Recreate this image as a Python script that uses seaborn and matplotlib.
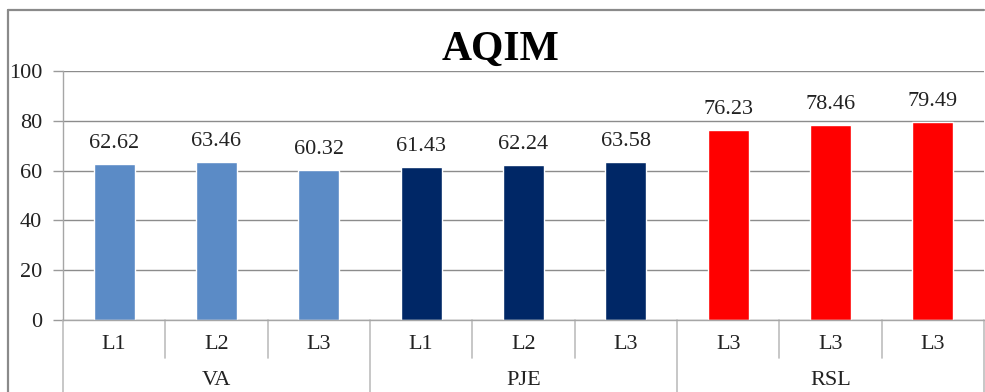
import matplotlib
matplotlib.use("Agg")
import matplotlib.pyplot as plt
import matplotlib.transforms as mtransforms
from matplotlib.lines import Line2D
import seaborn as sns
import pandas as pd

# Chart data
groups = ["VA", "VA", "VA", "PJE", "PJE", "PJE", "RSL", "RSL", "RSL"]
levels = ["L1", "L2", "L3", "L1", "L2", "L3", "L3", "L3", "L3"]
values = [62.62, 63.46, 60.32, 61.43, 62.24, 63.58, 76.23, 78.46, 79.49]
group_names = ["VA", "PJE", "RSL"]
group_colors = {"VA": "#5B8BC6", "PJE": "#002766", "RSL": "#FF0000"}
y_ticks = [0, 20, 40, 60, 80, 100]
title = "AQIM"

df = pd.DataFrame({
    "key": [f"{g}-{i}" for i, g in enumerate(groups)],
    "group": groups,
    "level": levels,
    "value": values,
})

sns.set_theme(style="white")
plt.rcParams["font.family"] = ["Liberation Serif", "DejaVu Serif"]

W, H = 985, 392
fig = plt.figure(figsize=(W / 100, H / 100), dpi=100)
left_px, right_px, top_px, bottom_px = 63, 984, 71, 320
ax = fig.add_axes([left_px / W, (H - bottom_px) / H,
                   (right_px - left_px) / W, (bottom_px - top_px) / H])

sns.barplot(data=df, x="key", y="value", hue="group", palette=group_colors,
            dodge=False, width=0.4, legend=False, ax=ax, saturation=1)

ax.set_ylim(0, 100)
ax.set_xlim(-0.5, len(values) - 0.5)
ax.set_yticks(y_ticks)
ax.set_yticklabels([str(t) for t in y_ticks], fontsize=16, color="#222222")
ax.tick_params(axis="y", length=7, width=1, color="#9a9a9a", pad=8, left=True)
ax.set_xticks([])
ax.set_xlabel("")
ax.set_ylabel("")

ax.yaxis.grid(True, color="#8c8c8c", linewidth=1.0)
ax.set_axisbelow(True)
for side in ["top", "right"]:
    ax.spines[side].set_visible(False)
ax.spines["left"].set_color("#a6a6a6")
ax.spines["bottom"].set_color("#a6a6a6")
ax.spines["left"].set_linewidth(1.0)
ax.spines["bottom"].set_linewidth(1.0)

# Value labels above each bar
for i, v in enumerate(values):
    ax.annotate(f"{v:.2f}", (i, v), xytext=(0, 8), textcoords="offset points",
                ha="center", va="bottom", fontsize=16, color="#222222")

# Two-level category axis
trans = mtransforms.blended_transform_factory(ax.transData, ax.transAxes)
for i, lab in enumerate(levels):
    ax.text(i, -0.10, lab, transform=trans, ha="center", va="center",
            fontsize=16, color="#222222", clip_on=False)
n = len(values)
for b in range(n + 1):
    x = b - 0.5
    is_group_edge = b % 3 == 0
    y_end = -0.30 if is_group_edge else -0.153
    ax.plot([x, x], [0, y_end], transform=trans, color="#bdbdbd",
            linewidth=1.2, clip_on=False)
for k, g in enumerate(group_names):
    ax.text(3 * k + 1, -0.242, g, transform=trans, ha="center", va="center",
            fontsize=16, color="#222222", clip_on=False)

# Title
fig.text(501 / W, 1 - 50 / H, title, ha="center", va="center",
         fontsize=30, fontweight="bold", color="#000000")

# Chart frame (left and top edges)
fx0, fy1 = 8 / W, 1 - 10 / H
fig.add_artist(Line2D([fx0, fx0], [0, fy1], transform=fig.transFigure,
                      color="#8a8a8a", linewidth=1.6))
fig.add_artist(Line2D([fx0, 984 / W], [fy1, fy1], transform=fig.transFigure,
                      color="#8a8a8a", linewidth=1.6))

fig.savefig("out.png", dpi=100)
